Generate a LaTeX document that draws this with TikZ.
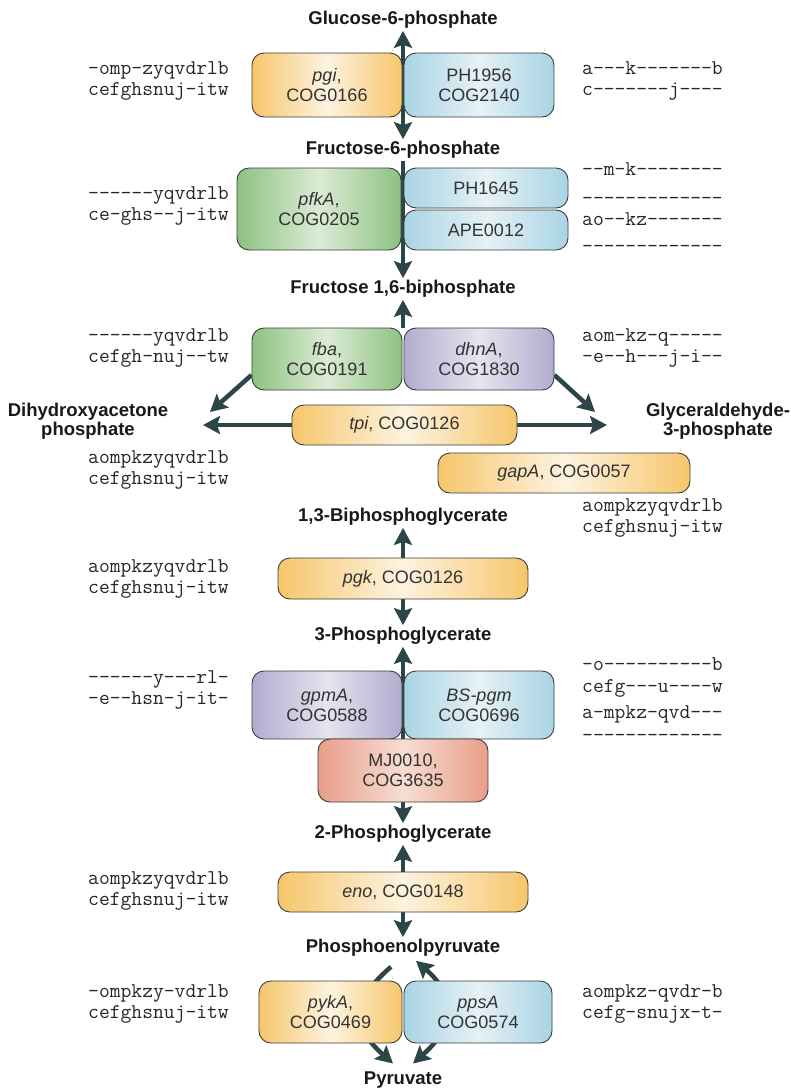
\documentclass[tikz,border=0pt]{standalone}
\usepackage{fontspec}
\setmainfont{Liberation Sans}
\setmonofont{Latin Modern Mono}
\usetikzlibrary{arrows.meta}
\pgfdeclarelayer{bg}
\pgfsetlayers{bg,main}
\definecolor{arr}{HTML}{2C4647}
\definecolor{edge}{HTML}{3C3C3C}
\definecolor{yelE}{HTML}{F6C66B}\definecolor{yelM}{HTML}{FDF3E0}
\definecolor{bluE}{HTML}{A8D4E4}\definecolor{bluM}{HTML}{E6F1F5}
\definecolor{grnE}{HTML}{8CC280}\definecolor{grnM}{HTML}{DCEBD6}
\definecolor{vioE}{HTML}{B1ACCF}\definecolor{vioM}{HTML}{E6E4EE}
\definecolor{redE}{HTML}{E99E88}\definecolor{redM}{HTML}{F7DDD3}
\tikzset{
  enz/.style={draw=edge,line width=0.9pt,rounded corners=12pt,align=center,inner sep=0pt,
    text=black!80,font=\fontsize{18}{20}\selectfont},
  met/.style={font=\fontsize{18.5}{19.5}\selectfont\bfseries,align=center,inner sep=2pt,text=black!90},
  org/.style={font=\fontsize{21}{21}\selectfont\ttfamily,inner sep=0pt,text=black!85},
  gyel/.style={left color=yelE,right color=yelE,middle color=yelM},
  gblu/.style={left color=bluE,right color=bluE,middle color=bluM},
  ggrn/.style={left color=grnE,right color=grnE,middle color=grnM},
  gvio/.style={left color=vioE,right color=vioE,middle color=vioM},
  gred/.style={left color=redE,right color=redE,middle color=redM},
  rxn/.style={draw=arr,line width=4.5pt}
}
\begin{document}
\begin{tikzpicture}[x=1pt,y=-1pt,>={Stealth[length=17pt,width=18pt,inset=3pt]}]
\useasboundingbox (0,0) rectangle (791,1088);
% metabolites
\node[met] (g6p) at (403,20) {Glucose-6-phosphate};
\node[met] (f6p) at (403,150) {Fructose-6-phosphate};
\node[met] (fbp) at (403,289) {Fructose 1,6-biphosphate};
\node[met] (dhap) at (88,421) {Dihydroxyacetone\\phosphate};
\node[met] (gap) at (718,421) {Glyceraldehyde-\\3-phosphate};
\node[met] (bpg) at (403,517) {1,3-Biphosphoglycerate};
\node[met] (pg3) at (403,636) {3-Phosphoglycerate};
\node[met] (pg2) at (403,834) {2-Phosphoglycerate};
\node[met] (pep) at (403,948) {Phosphoenolpyruvate};
\node[met] (pyr) at (403,1080) {Pyruvate};
\path (210,412) coordinate (dhapin)
      (595,412) coordinate (gapin)
      (203,425) coordinate (dhapout)
      (607,425) coordinate (gapout);
% enzymes
\node[enz,gyel,minimum width=150pt,minimum height=64pt] (pgi) at (327,85) {\textit{pgi},\\COG0166};
\node[enz,gblu,minimum width=150pt,minimum height=64pt] (ph1956) at (479,85) {PH1956\\COG2140};
\node[enz,ggrn,minimum width=164pt,minimum height=82pt] (pfka) at (319,209) {\textit{pfkA},\\COG0205};
\node[enz,gblu,minimum width=164pt,minimum height=40pt] (ph1645) at (486,188) {PH1645};
\node[enz,gblu,minimum width=164pt,minimum height=40pt] (ape0012) at (486,230) {APE0012};
\node[enz,ggrn,minimum width=150pt,minimum height=62pt] (fba) at (327,359) {\textit{fba},\\COG0191};
\node[enz,gvio,minimum width=150pt,minimum height=62pt] (dhna) at (479,359) {\textit{dhnA},\\COG1830};
\node[enz,gyel,minimum width=225pt,minimum height=40pt] (tpi) at (404.5,425) {\textit{tpi}, COG0126};
\node[enz,gyel,minimum width=252pt,minimum height=40pt] (gapa) at (564,473) {\textit{gapA}, COG0057};
\node[enz,gyel,minimum width=250pt,minimum height=41pt] (pgk) at (403,578.5) {\textit{pgk}, COG0126};
\node[enz,gvio,minimum width=150pt,minimum height=68pt] (gpma) at (327,705) {\textit{gpmA},\\COG0588};
\node[enz,gblu,minimum width=150pt,minimum height=68pt] (bspgm) at (479,705) {\textit{BS-pgm}\\COG0696};
\node[enz,gred,minimum width=170pt,minimum height=63pt] (mj0010) at (403,770.5) {MJ0010,\\COG3635};
\node[enz,gyel,minimum width=250pt,minimum height=40pt] (eno) at (403,892) {\textit{eno}, COG0148};
\node[enz,gyel,minimum width=143pt,minimum height=62pt] (pyka) at (330.5,1012) {\textit{pykA},\\COG0469};
\node[enz,gblu,minimum width=148pt,minimum height=62pt] (ppsa) at (478,1012) {\textit{ppsA}\\COG0574};
% reactions
\begin{pgfonlayer}{bg}
\draw[rxn,<->] (g6p) -- (f6p);
\draw[rxn,->] (f6p) -- (fbp);
\draw[rxn,->] (fbp.south |- fba.north) -- (fbp);
\draw[rxn,->] ([yshift=-16pt]fba.west) -- (dhapin);
\draw[rxn,->] ([yshift=-16pt]dhna.east) -- (gapin);
\draw[rxn,<->] (dhapout) -- (gapout);
\draw[rxn,<->] (bpg) -- (pg3);
\draw[rxn,<->] (pg3) -- (pg2);
\draw[rxn,<->] (pg2) -- (pep);
\draw[rxn,->] ([xshift=-12pt,yshift=-8pt]pep.south) .. controls +(-38,33) and +(-45,-40) .. ([xshift=-10pt,yshift=6pt]pyr.north);
\draw[rxn,<->] ([xshift=10pt,yshift=6pt]pyr.north) .. controls +(45,-40) and +(38,33) .. ([xshift=13pt,yshift=-2pt]pep.south);
\end{pgfonlayer}
% organism strings
\foreach \y/\s [count=\i] in {72/-omp-zyqvdrlb,93/cefghsnuj-itw,197/------yqvdrlb,218/ce-ghs--j-itw,
  339/------yqvdrlb,360/cefgh-nuj--tw,461/aompkzyqvdrlb,482/cefghsnuj-itw,570/aompkzyqvdrlb,
  591/cefghsnuj-itw,681/------y---rl-,702/-e--hsn-j-it-,882/aompkzyqvdrlb,903/cefghsnuj-itw,
  995/-ompkzy-vdrlb,1016/cefghsnuj-itw}
  \node[org,anchor=mid east] (l\i) at (229,\y) {\s};
\foreach \y/\s [count=\i] in {72/a---k-------b,93/c-------j----,173/--m-k--------,202/-------------,
  223/ao--kz-------,250/-------------,339/aom-kz-q-----,360/-e--h---j-i--,509/aompkzyqvdrlb,
  530/cefghsnuj-itw,668/-o----------b,690/cefg---u----w,716/a-mpkz-qvd---,739/-------------,
  995/aompkz-qvdr-b,1016/cefg-snujx-t-}
  \node[org,anchor=mid west] (r\i) at (582,\y) {\s};
\end{tikzpicture}
\end{document}
